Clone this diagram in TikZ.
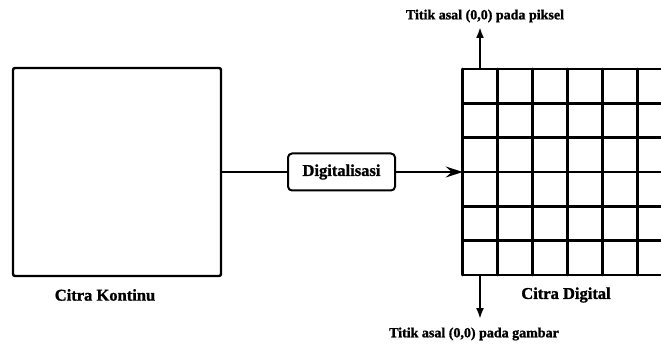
\documentclass[tikz,border=0pt]{standalone}
\usepackage{fontspec}
\setmainfont{Liberation Serif}
\newfontfamily\heavy[FakeBold=1.2]{Liberation Serif Bold}
\usetikzlibrary{arrows.meta}
\begin{document}
\begin{tikzpicture}[x=1pt,y=-1pt,
  frame/.style={draw, line width=2.4pt, rounded corners=2pt, inner sep=0pt},
  lbl/.style={font=\heavy\fontsize{16.5}{18}\selectfont, inner sep=0pt},
  small/.style={font=\heavy\fontsize{14}{16}\selectfont, inner sep=0pt},
  conn/.style={line width=1.8pt},
  gridline/.style={line width=2.6pt},
  varrow/.style={line width=2pt, -{Latex[length=11pt,width=8pt]}},
]
\useasboundingbox (0,0) rectangle (661,347);
% continuous image
\node[frame, minimum width=208pt, minimum height=208pt] (cont) at (117,172) {};
\node[lbl] (contlbl) at (105,295) {Citra Kontinu};
% digitalisation box
\node[frame, rounded corners=4pt, line width=2pt, minimum width=107pt, minimum height=37pt, font=\heavy\fontsize{16.5}{18}\selectfont] (dig) at (341.5,172) {Digitalisasi};
% digital image grid
\node[draw=none, minimum width=240pt, minimum height=206pt, inner sep=0pt, outer sep=0pt, anchor=north west] (grid) at (462.7,69) {};
\begin{scope}
  \clip (0,0) rectangle (661,347);
  \foreach \i in {0,...,6} \draw[gridline, line cap=round] (462.7,69+\i*34.333) -- (680,69+\i*34.333);
  \foreach \j in {0,...,5} \draw[gridline, line cap=round] (462.7+\j*35,69) -- (462.7+\j*35,275);
\end{scope}
\node[lbl] (diglbl) at (566,295) {Citra Digital};
% connectors
\draw[conn] (dig.west -| cont.east) -- (dig.west);
\draw[conn, -{Stealth[length=17pt,width=11pt,inset=6pt]}] (dig.east) -- (dig.east -| grid.west);
% origin arrows
\coordinate (pixo) at (480,69);
\coordinate (pixend) at (480,27);
\node[small] (pixlbl) at (485,16) {Titik asal (0,0) pada piksel};
\draw[varrow] (pixo) -- (pixend);
\coordinate (imgo) at (480,275);
\coordinate (imgend) at (480,319);
\node[small] (imglbl) at (474,334) {Titik asal (0,0) pada gambar};
\draw[varrow] (imgo) -- (imgend);
\end{tikzpicture}
\end{document}
